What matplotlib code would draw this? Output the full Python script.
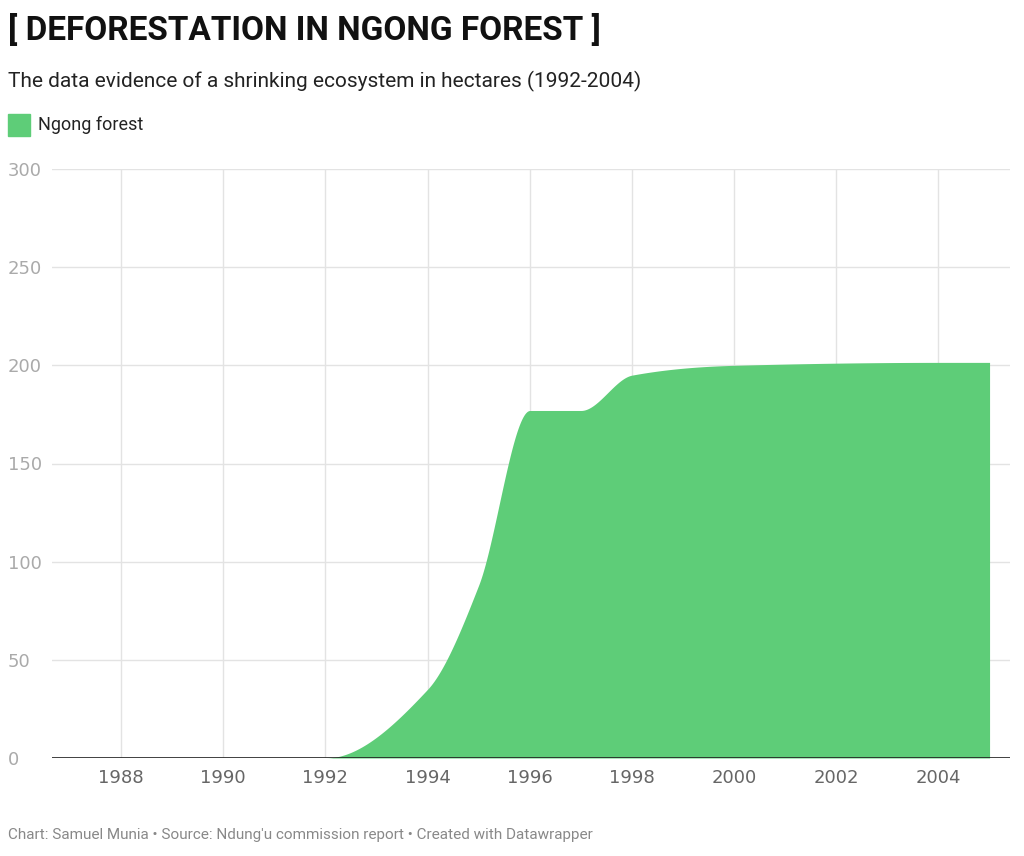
import matplotlib.pyplot as plt
import numpy as np

years = [1987, 1992, 1994, 1995, 1996, 1997, 1998, 2000, 2004, 2005]
hectares = [0, 0, 35, 88, 177, 177, 195, 200, 201.5, 201.5]
x_ticks = [1988, 1990, 1992, 1994, 1996, 1998, 2000, 2002, 2004]
y_ticks = [0, 50, 100, 150, 200, 250, 300]


def pchip(x, y, xs):
    # monotone cubic, like the smooth curve in the original
    x = np.asarray(x, float); y = np.asarray(y, float)
    h = np.diff(x); d = np.diff(y) / h
    m = np.zeros_like(y)
    for i in range(1, len(x) - 1):
        if d[i - 1] * d[i] > 0:
            w1 = 2 * h[i] + h[i - 1]; w2 = h[i] + 2 * h[i - 1]
            m[i] = (w1 + w2) / (w1 / d[i - 1] + w2 / d[i])
    m[0] = d[0] if d[0] == 0 else 0
    m[-1] = 0
    out = np.empty_like(xs)
    idx = np.clip(np.searchsorted(x, xs) - 1, 0, len(h) - 1)
    for j, (xv, i) in enumerate(zip(xs, idx)):
        t = (xv - x[i]) / h[i]
        h00 = 2*t**3 - 3*t**2 + 1; h10 = t**3 - 2*t**2 + t
        h01 = -2*t**3 + 3*t**2; h11 = t**3 - t**2
        out[j] = h00*y[i] + h10*h[i]*m[i] + h01*y[i+1] + h11*h[i]*m[i+1]
    return out


xs = np.linspace(years[0], years[-1], 1000)
ys = pchip(years, hectares, xs)

fig = plt.figure(figsize=(10.24, 8.56), dpi=100)
ax = fig.add_axes([52/1024, 1 - 758/856, 958/1024, 589/856])
ax.fill_between(xs, 0, ys, color='#5ecd78', lw=0, zorder=2)
ax.set_xlim(1986.65, 2005.4)
ax.set_ylim(0, 300)
ax.set_xticks(x_ticks)
ax.set_yticks(y_ticks)
ax.grid(True, color='#e3e3e3', lw=1, zorder=0)
for s in ax.spines.values():
    s.set_visible(False)
ax.axhline(0, color='#222222', lw=1.2, zorder=3)
ax.tick_params(length=0, labelsize=13, colors='#9a9a9a', pad=8)
ax.tick_params(axis='y', pad=0)
for lab in ax.get_yticklabels():
    lab.set_horizontalalignment('left')
    lab.set_x(-44/958)
for lab in ax.get_xticklabels():
    lab.set_color('#666666')
for lab in ax.get_yticklabels():
    lab.set_color('#aaaaaa')

fig.text(8/1024, 1 - 30/856, '[ DEFORESTATION IN NGONG FOREST ]', fontsize=24,
         fontweight='bold', va='center', color='#111111', family='Roboto')
fig.text(8/1024, 1 - 81/856, 'The data evidence of a shrinking ecosystem in hectares (1992-2004)',
         fontsize=15, va='center', color='#222222', family='Roboto')
fig.patches.append(plt.Rectangle((8/1024, 1 - 136/856), 22/1024, 22/856,
                                 transform=fig.transFigure, color='#5ecd78'))
fig.text(38/1024, 1 - 125/856, 'Ngong forest', fontsize=13, va='center',
         color='#222222', family='Roboto')
fig.text(8/1024, 1 - 835/856,
         "Chart: Samuel Munia \u2022 Source: Ndung'u commission report \u2022 Created with Datawrapper",
         fontsize=11, va='center', color='#888888', family='Roboto')

fig.savefig('out.png', dpi=100)
